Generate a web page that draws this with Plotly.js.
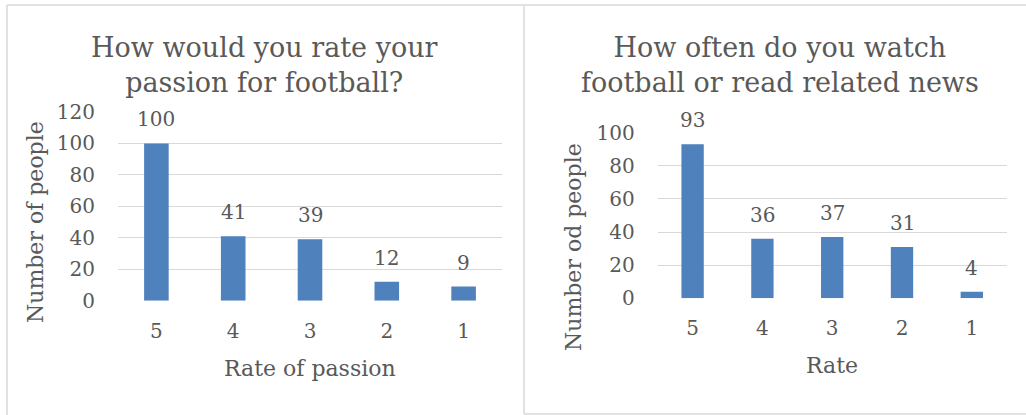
<!DOCTYPE html>
<html>
<head>
<meta charset="utf-8">
<script src="https://cdn.plot.ly/plotly-3.0.1.min.js"></script>
<style>html,body{margin:0;padding:0;background:#fff;}#chart{width:1026px;height:415px;}</style>
</head>
<body>
<div id="chart"></div>
<script>
// ---- data ----
const categories = ["5", "4", "3", "2", "1"];
const passionValues = [100, 41, 39, 12, 9];
const watchValues = [93, 36, 37, 31, 4];
const leftTitle = "How would you rate your<br>passion for football?";
const rightTitle = "How often do you watch<br>football or read related news";
const leftXTitle = "Rate of passion";
const leftYTitle = "Number of people";
const rightXTitle = "Rate";
const rightYTitle = "Number od people";

// ---- layout helpers ----
const W = 1026, H = 415;
const px = x => x / W;
const py = y => 1 - y / H;
const FONT = "DejaVu Serif";
const TXT = "#595959";
const GRID = "#d9d9d9";
const BAR = "#4f81bd";

const traces = [
  {type: "bar", x: categories, y: passionValues, xaxis: "x", yaxis: "y",
   marker: {color: BAR, line: {width: 0}}, width: 0.32, hoverinfo: "x+y"},
  {type: "bar", x: categories, y: watchValues, xaxis: "x2", yaxis: "y2",
   marker: {color: BAR, line: {width: 0}}, width: 0.32, hoverinfo: "x+y"}
];

function xAxis(domain) {
  return {domain: domain, type: "category", showgrid: false, zeroline: false,
    showline: false, ticks: "", ticklabelstandoff: 16,
    tickfont: {family: FONT, size: 20, color: TXT}, fixedrange: true};
}
function yAxis(domain, range, dtick) {
  return {domain: domain, range: range, dtick: dtick, showgrid: true, gridcolor: GRID,
    gridwidth: 1, zeroline: false, showline: false, ticks: "", ticklabelstandoff: 22,
    tickfont: {family: FONT, size: 20, color: TXT}, fixedrange: true};
}

const annotations = [];
function label(text, x, y, size, extra) {
  annotations.push(Object.assign({text: text, x: x, y: y, xref: "paper", yref: "paper",
    showarrow: false, font: {family: FONT, size: size, color: TXT}}, extra || {}));
}
// chart titles
label(leftTitle, px(264), py(65), 27, {xanchor: "center", yanchor: "middle"});
label(rightTitle, px(780), py(65), 27, {xanchor: "center", yanchor: "middle"});
// axis titles
label(leftXTitle, px(310), py(368), 22, {xanchor: "center", yanchor: "middle"});
label(rightXTitle, px(832), py(365), 22, {xanchor: "center", yanchor: "middle"});
label(leftYTitle, px(35), py(222), 22, {xanchor: "center", yanchor: "middle", textangle: -90});
label(rightYTitle, px(573), py(247), 22, {xanchor: "center", yanchor: "middle", textangle: -90});

// data labels (category axis positions are the category indices)
categories.forEach((c, i) => {
  annotations.push({x: i, y: passionValues[i], xref: "x", yref: "y", text: String(passionValues[i]),
    showarrow: false, yanchor: "bottom", yshift: 10, font: {family: FONT, size: 20, color: TXT}});
  annotations.push({x: i, y: watchValues[i], xref: "x2", yref: "y2", text: String(watchValues[i]),
    showarrow: false, yanchor: "bottom", yshift: 10, font: {family: FONT, size: 20, color: TXT}});
});

const BORDER = {color: GRID, width: 1.5};
const shapes = [
  {type: "line", xref: "paper", yref: "paper", x0: px(7), x1: 1, y0: py(5), y1: py(5), line: BORDER},
  {type: "line", xref: "paper", yref: "paper", x0: px(7), x1: px(7), y0: py(5), y1: 0, line: BORDER},
  {type: "line", xref: "paper", yref: "paper", x0: px(524), x1: px(524), y0: py(5), y1: py(414), line: BORDER},
  {type: "line", xref: "paper", yref: "paper", x0: px(524), x1: 1, y0: py(414), y1: py(414), line: BORDER}
];

const layout = {
  width: W, height: H, margin: {l: 0, r: 0, t: 0, b: 0},
  paper_bgcolor: "#ffffff", plot_bgcolor: "#ffffff", showlegend: false,
  font: {family: FONT, color: TXT},
  xaxis: xAxis([px(118), px(502)]),
  yaxis: yAxis([py(300.7), py(112)], [0, 120], 20),
  xaxis2: Object.assign(xAxis([px(657.7), px(1006.7)]), {anchor: "y2"}),
  yaxis2: Object.assign(yAxis([py(298.3), py(132.7)], [0, 100], 20), {anchor: "x2"}),
  annotations: annotations, shapes: shapes, bargap: 0.68
};
layout.xaxis.anchor = "y";
layout.yaxis.anchor = "x";

Plotly.newPlot("chart", traces, layout, {displayModeBar: false, staticPlot: true});
</script>
</body>
</html>
